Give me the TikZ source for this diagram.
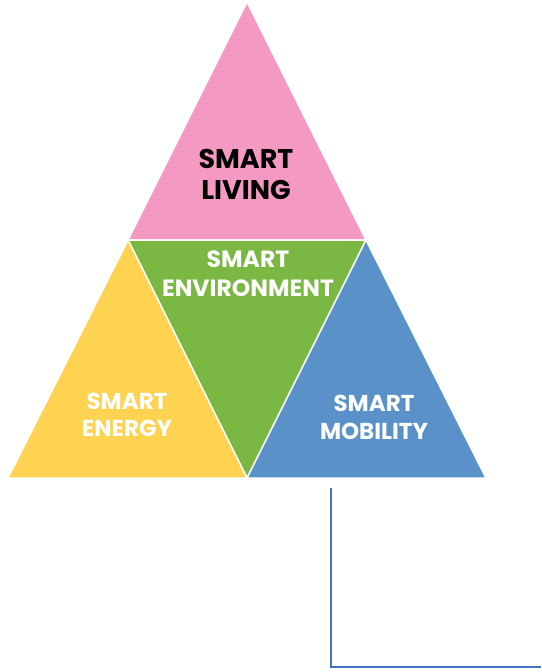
\documentclass[tikz,border=0pt]{standalone}
\usepackage{fontspec}
\setmainfont{Poppins}
\definecolor{livingpink}{HTML}{F49AC2}
\definecolor{envgreen}{HTML}{7AB843}
\definecolor{energyyellow}{HTML}{FDD351}
\definecolor{mobilityblue}{HTML}{5B91C9}
\definecolor{linkblue}{HTML}{4472C4}
\begin{document}
\begin{tikzpicture}[x=1pt,y=-1pt,
	tri/.style={draw=white,line width=1.5pt,line join=round},
	caption/.style={font=\bfseries\fontsize{23}{28}\selectfont,text=white,align=center}]
	\useasboundingbox (0,0) rectangle (541,672);
	% corners of the pyramid
	\coordinate (apex) at (247,2);
	\coordinate (midL) at (128,240);
	\coordinate (midR) at (366,240);
	\coordinate (baseL) at (8,478);
	\coordinate (baseM) at (247,478);
	\coordinate (baseR) at (486,478);
	\fill[livingpink,tri] (apex) -- (midL) -- (midR) -- cycle;
	\fill[envgreen,tri] (midL) -- (midR) -- (baseM) -- cycle;
	\fill[energyyellow,tri] (midL) -- (baseL) -- (baseM) -- cycle;
	\fill[mobilityblue,tri] (midR) -- (baseM) -- (baseR) -- cycle;
	\node[caption,text=black,font=\bfseries\fontsize{27}{31}\selectfont] (living) at (246,174) {SMART\\LIVING};
	\node[caption,font=\bfseries\fontsize{23.5}{29}\selectfont] (environment) at (248,274) {SMART\\ENVIRONMENT};
	\node[caption,font=\bfseries\fontsize{23}{27}\selectfont] (energy) at (127,415) {SMART\\ENERGY};
	\node[caption,font=\bfseries\fontsize{23}{28}\selectfont] (mobility) at (374,417) {SMART\\MOBILITY};
	% link leaving the pyramid
	\coordinate (linkStart) at (331,488);
	\coordinate (linkEnd) at (541,667);
	\draw[linkblue,line width=1.2pt] (linkStart) |- (linkEnd);
\end{tikzpicture}
\end{document}
